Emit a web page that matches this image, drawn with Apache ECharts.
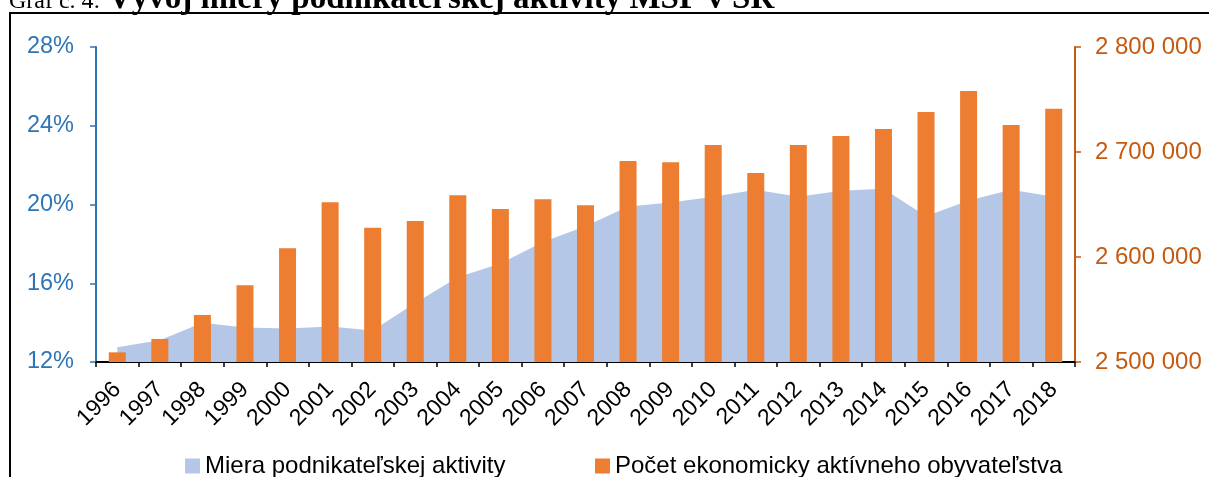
<!DOCTYPE html>
<html>
<head>
<meta charset="utf-8">
<script src="https://cdn.jsdelivr.net/npm/echarts@6/dist/echarts.min.js"></script>
<style>
html,body{margin:0;padding:0;background:#fff;}
#chart{width:1209px;height:477px;}
</style>
</head>
<body>
<div id="chart"></div>
<script>
const years = ['1996','1997','1998','1999','2000','2001','2002','2003','2004','2005','2006','2007','2008','2009','2010','2011','2012','2013','2014','2015','2016','2017','2018'];
const activityRate = [12.75, 13.1, 14.0, 13.75, 13.7, 13.8, 13.6, 15.0, 16.3, 17.0, 18.1, 18.9, 19.9, 20.1, 20.4, 20.75, 20.4, 20.7, 20.8, 19.4, 20.2, 20.75, 20.4];
const activePopulation = [2509200, 2521900, 2544800, 2573000, 2608300, 2652100, 2627900, 2634300, 2658700, 2645700, 2654900, 2649200, 2691400, 2690200, 2706700, 2680000, 2706700, 2715200, 2721900, 2738100, 2758100, 2725700, 2741300];
const seriesNames = ['Miera podnikateľskej aktivity', 'Počet ekonomicky aktívneho obyvateľstva'];
const titleNormal = 'Graf č. 4:';
const titleBold = 'Vývoj miery podnikateľskej aktivity MSP v SR';

const FONT = '"Liberation Sans", Arial, sans-serif';
const SERIF = '"Liberation Serif", "Times New Roman", serif';
const chart = echarts.init(document.getElementById('chart'), null, {renderer: 'canvas'});
const fmtSpace = v => String(v).replace(/\B(?=(\d{3})+(?!\d))/g, ' ');

chart.setOption({
  animation: false,
  backgroundColor: '#fff',
  graphic: [
    {
      type: 'rect', z: 100, silent: true,
      shape: {x: 10, y: 13, width: 1400, height: 800},
      style: {fill: 'none', stroke: '#000', lineWidth: 2}
    },
    {
      type: 'text', z: 100, x: 9, y: 14,
      style: {text: titleNormal, font: '24px ' + SERIF, fill: '#000', verticalAlign: 'bottom'}
    },
    {
      type: 'text', z: 100, x: 108, y: 16,
      style: {text: titleBold, font: 'bold 33px ' + SERIF, fill: '#000', verticalAlign: 'bottom'}
    }
  ],
  legend: [
    {
      left: 185, top: 454, padding: 0, icon: 'rect', itemWidth: 15, itemHeight: 15, itemGap: 0,
      textStyle: {fontFamily: FONT, fontSize: 24, color: '#000'},
      data: [seriesNames[0]]
    },
    {
      left: 595, top: 454, padding: 0, icon: 'rect', itemWidth: 15, itemHeight: 15, itemGap: 0,
      textStyle: {fontFamily: FONT, fontSize: 24, color: '#000'},
      data: [seriesNames[1]]
    }
  ],
  grid: {left: 96, right: 134, top: 47, bottom: 115},
  xAxis: {
    type: 'category',
    data: years,
    boundaryGap: true,
    axisLine: {lineStyle: {color: '#000', width: 2}},
    axisTick: {show: true, length: 5, lineStyle: {color: '#000', width: 1.5}},
    axisLabel: {rotate: 45, interval: 0, margin: 24, fontFamily: FONT, fontSize: 23, color: '#000'},
    splitLine: {show: false}
  },
  yAxis: [
    {
      type: 'value', min: 12, max: 28, interval: 4, position: 'left',
      axisLine: {show: true, lineStyle: {color: '#2E75B6', width: 2}},
      axisTick: {show: true, length: 6, lineStyle: {color: '#2E75B6', width: 1.5}},
      axisLabel: {formatter: '{value}%', fontFamily: FONT, fontSize: 23.5, color: '#2E75B6', margin: 22},
      splitLine: {show: false}
    },
    {
      type: 'value', min: 2500000, max: 2800000, interval: 100000, position: 'right',
      axisLine: {show: true, lineStyle: {color: '#C55A11', width: 2}},
      axisTick: {show: true, length: 6, lineStyle: {color: '#C55A11', width: 1.5}},
      axisLabel: {formatter: fmtSpace, fontFamily: FONT, fontSize: 24, color: '#C55A11', margin: 20},
      splitLine: {show: false}
    }
  ],
  series: [
    {
      name: seriesNames[0],
      type: 'line',
      yAxisIndex: 0,
      data: activityRate,
      symbol: 'none',
      lineStyle: {width: 0},
      itemStyle: {color: '#B4C7E7'},
      areaStyle: {color: '#B4C7E7', opacity: 1},
      z: 1
    },
    {
      name: seriesNames[1],
      type: 'bar',
      yAxisIndex: 1,
      data: activePopulation,
      barWidth: 17,
      itemStyle: {color: '#ED7D31'},
      z: 2
    }
  ]
});
</script>
</body>
</html>
